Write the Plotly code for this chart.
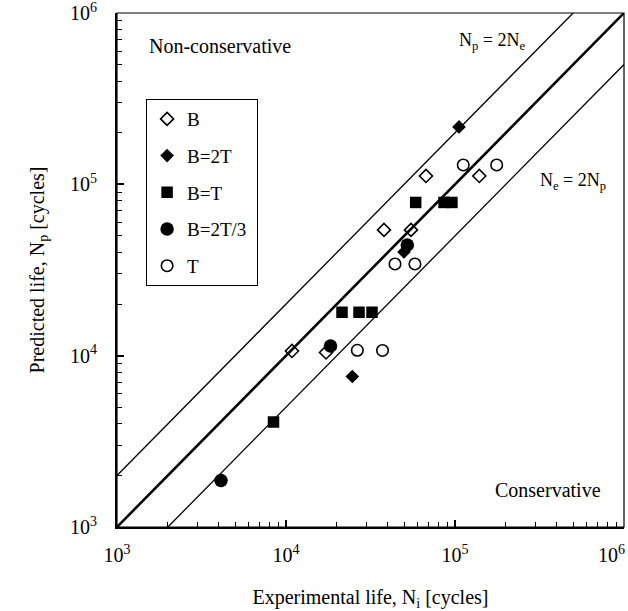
import plotly.graph_objects as go

# ---- data ----
B_x = [10850, 17250, 38000, 54900, 67350, 139300]
B_y = [10650, 10440, 54200, 54200, 111900, 111900]

B2T_x = [105600, 24680, 49900]
B2T_y = [216300, 7560, 40300]

BT_x = [58530, 86100, 95900, 21450, 27040, 32280, 8435]
BT_y = [78400, 78400, 78400, 17920, 17920, 17920, 4100]

B23_x = [4125, 18340, 52220]
B23_y = [1868, 11390, 44290]

T_x = [26430, 37240, 44160, 57930, 111900, 176500]
T_y = [10750, 10720, 34300, 34300, 129800, 129800]

# reference lines
eq_x = [1e3, 1e6]
eq_y = [1e3, 1e6]
up_x = [1e3, 5e5]
up_y = [2e3, 1e6]
lo_x = [2e3, 1e6]
lo_y = [1e3, 5e5]

major_vals = [1e3, 1e4, 1e5, 1e6]
major_text = ["10<sup>3</sup>", "10<sup>4</sup>", "10<sup>5</sup>", "10<sup>6</sup>"]
x_major_text = ["10<sup>3</sup>", "10<sup>4</sup>", "10<sup>5</sup>",
                "10<sup>6</sup>" + "\u00a0" * 5]
minor_vals = [k * 10 ** e for e in (3, 4, 5) for k in range(2, 10)]

FONT = "Liberation Serif, Times New Roman, serif"

fig = go.Figure()

# lines
fig.add_trace(go.Scatter(x=up_x, y=up_y, mode="lines", line=dict(color="black", width=1.3),
                         showlegend=False, hoverinfo="skip"))
fig.add_trace(go.Scatter(x=eq_x, y=eq_y, mode="lines", line=dict(color="black", width=2.6),
                         showlegend=False, hoverinfo="skip"))
fig.add_trace(go.Scatter(x=lo_x, y=lo_y, mode="lines", line=dict(color="black", width=1.3),
                         showlegend=False, hoverinfo="skip"))

series = [
    ("B", B_x, B_y, dict(symbol="diamond-open", size=10, color="black", line=dict(width=1.6, color="black"))),
    ("B=2T", B2T_x, B2T_y, dict(symbol="diamond", size=10.5, color="black", line=dict(width=0))),
    ("B=T", BT_x, BT_y, dict(symbol="square", size=11.5, color="black", line=dict(width=0))),
    ("B=2T/3\u00a0", B23_x, B23_y, dict(symbol="circle", size=13.5, color="black", line=dict(width=0))),
    ("T", T_x, T_y, dict(symbol="circle-open", size=11.5, color="black", line=dict(width=1.6, color="black"))),
]
for i, (name, xs, ys, mk) in enumerate(series):
    fig.add_trace(go.Scatter(x=xs, y=ys, mode="markers", name=name, marker=mk,
                             legendgroup=f"g{i}"))

axis_common = dict(
    type="log", range=[3, 6], showgrid=False, zeroline=False,
    showline=True, linecolor="black", linewidth=2,
    ticks="inside", ticklen=7, tickwidth=1.5, tickcolor="black",
    tickmode="array", tickvals=major_vals,
    tickfont=dict(family=FONT, size=20, color="black"),
    ticklabeloverflow="allow", automargin=False,
    minor=dict(ticks="inside", ticklen=5, tickwidth=1.2, tickcolor="black",
               tickmode="array", tickvals=minor_vals, showgrid=False),
    mirror=False,
)

fig.update_layout(
    width=628, height=611, autosize=False,
    margin=dict(l=117, r=4, t=13, b=84),
    paper_bgcolor="white", plot_bgcolor="white",
    font=dict(family=FONT, size=20, color="black"),
    xaxis=dict(**axis_common, ticktext=x_major_text, ticklabelstandoff=9,
               title=dict(text="Experimental life, N<sub>i</sub> [cycles]",
                          font=dict(family=FONT, size=20, color="black"), standoff=28)),
    yaxis=dict(**axis_common, ticktext=major_text, ticklabelstandoff=14,
               title=dict(text="Predicted life, N<sub>p</sub> [cycles]",
                          font=dict(family=FONT, size=20, color="black"), standoff=20)),
    legend=dict(x=0.057, y=0.833, xanchor="left", yanchor="top",
                bgcolor="white", bordercolor="black", borderwidth=1.2,
                font=dict(family=FONT, size=19, color="black"),
                tracegroupgap=9, itemwidth=30),
    shapes=[dict(type="rect", xref="paper", yref="paper", x0=0, y0=0, x1=1, y1=1,
                 line=dict(color="black", width=1.2), layer="below")],
    annotations=[
        dict(text="Non-conservative", xref="paper", yref="paper", x=0.059, y=0.936,
             xanchor="left", yanchor="middle", showarrow=False,
             font=dict(family=FONT, size=20, color="black")),
        dict(text="Conservative", xref="paper", yref="paper", x=0.9586, y=0.072,
             xanchor="right", yanchor="middle", showarrow=False,
             font=dict(family=FONT, size=20, color="black")),
        dict(text="N<sub>p</sub> = 2N<sub>e</sub>", xref="paper", yref="paper", x=0.6706, y=0.944,
             xanchor="left", yanchor="middle", showarrow=False,
             font=dict(family=FONT, size=18, color="black")),
        dict(text="N<sub>e</sub> = 2N<sub>p</sub>", xref="paper", yref="paper", x=0.830, y=0.672,
             xanchor="left", yanchor="middle", showarrow=False,
             font=dict(family=FONT, size=18, color="black")),
    ],
)

fig.write_html("out.html")
